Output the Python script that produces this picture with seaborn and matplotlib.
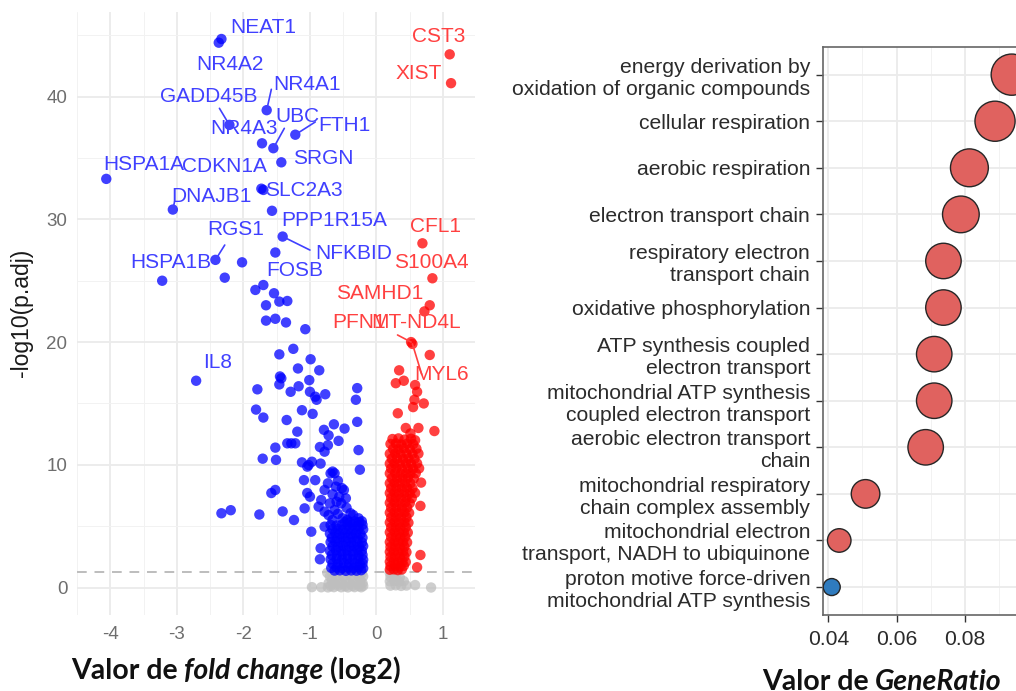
import matplotlib
matplotlib.use("Agg")
import matplotlib.pyplot as plt
import pandas as pd
import seaborn as sns

# ---------------- volcano plot data: (log2 fold change, -log10 adjusted p) ----------------
down_points = [
    (-2.02, 26.5), (-2.28, 25.25), (-1.82, 24.25), (-1.70, 24.65), (-1.54, 23.98), (-1.46, 23.3),
    (-1.34, 23.35), (-1.66, 23.0), (-1.66, 21.75), (-1.52, 21.9), (-1.36, 21.6), (-1.07, 21.05),
    (-1.25, 19.45), (-1.46, 19.0), (-0.99, 18.6), (-1.18, 17.85), (-0.86, 17.7), (-1.45, 17.2),
    (-1.43, 17.05), (-1.46, 16.55), (-1.01, 16.9), (-1.17, 16.4), (-1.29, 15.95), (-1.79, 16.15),
    (-1.00, 15.95), (-0.92, 15.55), (-0.90, 15.3), (-0.77, 15.75), (-0.29, 16.25), (-0.31, 15.3),
    (-1.81, 14.5), (-1.70, 13.85), (-1.35, 13.65), (-1.12, 14.45), (-0.96, 14.15), (-0.29, 13.5),
    (-0.64, 13.3), (-0.48, 12.95), (-0.79, 12.85), (-0.72, 12.4), (-0.57, 11.95), (-1.19, 12.7),
    (-1.52, 11.4), (-1.34, 11.75), (-1.28, 11.75), (-1.22, 11.75), (-0.85, 11.45), (-0.73, 11.6),
    (-0.78, 11.07), (-0.27, 11.2), (-1.71, 10.5), (-1.51, 10.4), (-1.12, 10.2), (-1.02, 9.98),
    (-1.04, 9.85), (-0.97, 10.25), (-0.84, 10.1), (-0.25, 9.6), (-0.66, 9.45), (-0.69, 9.3),
    (-0.63, 9.31), (-1.09, 8.75), (-0.92, 8.75), (-0.73, 8.49), (-0.61, 8.22), (-0.78, 7.95),
    (-0.49, 7.95), (-0.56, 7.4), (-0.46, 7.27), (-0.83, 7.13), (-0.70, 6.86), (-0.53, 6.86),
    (-0.87, 6.59), (-0.78, 6.18), (-0.63, 6.32), (-0.39, 6.05), (-0.27, 5.64), (-0.51, 5.64),
    (-0.66, 5.5), (-0.78, 4.96), (-1.58, 7.7), (-1.52, 7.95), (-1.04, 7.7), (-1.00, 7.4),
    (-2.33, 6.05), (-2.19, 6.3), (-1.76, 5.95), (-1.41, 6.2), (-1.24, 5.5), (-1.08, 6.45),
    (-0.98, 4.55), (-0.84, 3.2), (-0.85, 2.3), (-0.58, 8.7), (-0.52, 8.1), (-0.66, 7.6),
    (-0.60, 7.0), (-0.45, 6.5), (-0.72, 5.9), (-0.58, 6.0), (-0.35, 5.9), (-0.44, 5.5),
    # dense block just above the significance threshold
    (-0.47, 5.35), (-0.40, 5.3), (-0.33, 5.38), (-0.26, 5.33), (-0.22, 5.4),
    (-0.69, 5.1), (-0.60, 5.05), (-0.52, 5.12), (-0.44, 5.08), (-0.36, 5.1), (-0.29, 5.04), (-0.21, 5.11),
    (-0.66, 4.75), (-0.58, 4.78), (-0.50, 4.71), (-0.42, 4.76), (-0.35, 4.73), (-0.27, 4.79), (-0.20, 4.74),
    (-0.70, 4.4), (-0.62, 4.43), (-0.55, 4.37), (-0.47, 4.42), (-0.39, 4.38), (-0.31, 4.41), (-0.24, 4.36),
    (-0.67, 4.05), (-0.59, 4.02), (-0.51, 4.08), (-0.43, 4.03), (-0.36, 4.07), (-0.28, 4.01), (-0.21, 4.06),
    (-0.69, 3.7), (-0.62, 3.73), (-0.54, 3.68), (-0.46, 3.72), (-0.38, 3.69), (-0.30, 3.74), (-0.22, 3.67),
    (-0.66, 3.35), (-0.58, 3.31), (-0.50, 3.37), (-0.41, 3.33), (-0.34, 3.36), (-0.26, 3.32), (-0.20, 3.38),
    (-0.70, 3.0), (-0.61, 3.03), (-0.53, 2.97), (-0.45, 3.02), (-0.37, 2.98), (-0.29, 3.04), (-0.22, 2.99),
    (-0.67, 2.65), (-0.59, 2.62), (-0.51, 2.68), (-0.43, 2.63), (-0.35, 2.67), (-0.27, 2.61), (-0.21, 2.66),
    (-0.69, 2.3), (-0.60, 2.33), (-0.52, 2.28), (-0.44, 2.32), (-0.36, 2.29), (-0.28, 2.34), (-0.20, 2.27),
    (-0.66, 1.95), (-0.58, 1.92), (-0.49, 1.98), (-0.41, 1.93), (-0.33, 1.97), (-0.25, 1.91), (-0.21, 1.96),
    (-0.68, 1.6), (-0.60, 1.63), (-0.52, 1.58), (-0.43, 1.62), (-0.35, 1.59), (-0.27, 1.64), (-0.20, 1.57),
    (-0.63, 1.38), (-0.55, 1.4), (-0.46, 1.36), (-0.38, 1.39), (-0.30, 1.37), (-0.23, 1.41),
]

up_points = [
    (0.80, 18.95), (0.34, 17.7), (0.29, 16.65), (0.41, 16.85), (0.58, 16.5), (0.61, 15.95),
    (0.57, 15.3), (0.71, 15.0), (0.55, 14.7), (0.32, 14.2), (0.87, 12.75), (0.44, 13.0),
    (0.63, 13.0), (0.51, 12.55), (0.67, 8.55), (0.66, 6.65), (0.66, 2.65), (0.61, 1.65),
    (0.24, 12.1), (0.33, 12.15), (0.42, 12.05), (0.52, 12.12), (0.58, 12.0),
    (0.21, 11.7), (0.29, 11.74), (0.37, 11.66), (0.46, 11.72), (0.55, 11.68),
    (0.25, 11.3), (0.33, 11.27), (0.41, 11.33), (0.50, 11.29), (0.60, 11.31),
    (0.20, 10.9), (0.28, 10.93), (0.36, 10.87), (0.45, 10.92), (0.54, 10.88), (0.63, 10.91),
    (0.23, 10.5), (0.31, 10.53), (0.40, 10.47), (0.48, 10.52), (0.57, 10.48),
    (0.20, 10.1), (0.27, 10.13), (0.35, 10.07), (0.44, 10.12), (0.52, 10.08), (0.61, 10.11),
    (0.22, 9.7), (0.30, 9.73), (0.38, 9.67), (0.47, 9.72), (0.55, 9.68), (0.64, 9.71),
    (0.20, 9.3), (0.28, 9.33), (0.36, 9.27), (0.44, 9.32), (0.51, 9.28), (0.59, 9.31),
    (0.23, 8.9), (0.31, 8.93), (0.39, 8.87), (0.47, 8.92), (0.56, 8.88),
    (0.20, 8.5), (0.27, 8.53), (0.35, 8.47), (0.43, 8.52), (0.51, 8.48),
    (0.22, 8.1), (0.30, 8.13), (0.38, 8.07), (0.46, 8.12), (0.54, 8.08),
    (0.20, 7.7), (0.27, 7.73), (0.34, 7.67), (0.42, 7.72), (0.50, 7.68), (0.58, 7.71),
    (0.22, 7.3), (0.29, 7.33), (0.37, 7.27), (0.45, 7.32), (0.53, 7.28),
    (0.20, 6.9), (0.27, 6.93), (0.35, 6.87), (0.43, 6.92), (0.50, 6.88),
    (0.22, 6.5), (0.30, 6.53), (0.38, 6.47), (0.46, 6.52),
    (0.20, 6.1), (0.27, 6.13), (0.34, 6.07), (0.42, 6.12), (0.49, 6.08),
    (0.22, 5.7), (0.29, 5.73), (0.37, 5.67), (0.45, 5.72),
    (0.20, 5.3), (0.27, 5.33), (0.34, 5.27), (0.42, 5.32), (0.48, 5.28),
    (0.22, 4.9), (0.29, 4.93), (0.36, 4.87), (0.44, 4.92),
    (0.20, 4.5), (0.27, 4.53), (0.34, 4.47), (0.41, 4.52), (0.47, 4.48),
    (0.22, 4.1), (0.29, 4.13), (0.36, 4.07), (0.43, 4.12),
    (0.20, 3.7), (0.27, 3.73), (0.33, 3.67), (0.40, 3.72), (0.46, 3.68),
    (0.21, 3.3), (0.28, 3.33), (0.35, 3.27), (0.42, 3.32),
    (0.20, 2.9), (0.26, 2.93), (0.33, 2.87), (0.40, 2.92), (0.45, 2.88),
    (0.21, 2.5), (0.28, 2.53), (0.35, 2.47), (0.42, 2.52),
    (0.20, 2.1), (0.26, 2.13), (0.33, 2.07), (0.39, 2.12), (0.44, 2.08),
    (0.21, 1.75), (0.28, 1.78), (0.35, 1.72), (0.41, 1.77),
    (0.20, 1.45), (0.26, 1.48), (0.32, 1.42), (0.38, 1.47),
]

ns_points = [
    (-0.74, 1.2), (-0.66, 1.18), (-0.55, 1.22), (-0.42, 1.19), (-0.30, 1.21), (-0.22, 1.17),
    (-0.70, 0.9), (-0.61, 0.93), (-0.50, 0.88), (-0.38, 0.92), (-0.27, 0.89), (-0.20, 0.91),
    (-0.67, 0.6), (-0.57, 0.63), (-0.46, 0.58), (-0.35, 0.62), (-0.24, 0.59),
    (-0.72, 0.35), (-0.63, 0.38), (-0.52, 0.33), (-0.41, 0.37), (-0.30, 0.34), (-0.21, 0.36),
    (-0.69, 0.12), (-0.58, 0.15), (-0.47, 0.1), (-0.36, 0.14), (-0.26, 0.11), (-0.20, 0.13),
    (-0.97, 0.03), (-0.83, 0.02), (-0.73, 0.01), (-0.64, 0.03), (-0.53, 0.02), (-0.43, 0.01),
    (-0.33, 0.03), (-0.23, 0.02),
    (0.20, 1.2), (0.26, 1.18), (0.31, 1.22), (0.21, 0.85), (0.28, 0.88), (0.35, 0.83),
    (0.20, 0.5), (0.27, 0.53), (0.34, 0.48), (0.41, 0.52), (0.21, 0.15), (0.29, 0.18),
    (0.37, 0.13), (0.45, 0.16), (0.58, 0.2), (0.82, 0.0),
]

# labelled genes
label_genes = ["NEAT1", "NR4A2", "NR4A1", "GADD45B", "NR4A3", "UBC", "FTH1", "SRGN",
               "HSPA1A", "CDKN1A", "SLC2A3", "DNAJB1", "PPP1R15A", "RGS1", "NFKBID",
               "HSPA1B", "FOSB", "IL8",
               "CST3", "XIST", "CFL1", "S100A4", "SAMHD1", "PFN1", "MT-ND4L", "MYL6"]
label_fc = [-2.33, -2.37, -1.65, -2.21, -1.72, -1.55, -1.22, -1.43,
            -4.06, -1.73, -1.70, -3.06, -1.57, -2.42, -1.41,
            -3.22, -1.52, -2.71,
            1.10, 1.12, 0.69, 0.84, 0.80, 0.72, 0.52, 0.54]
label_logp = [44.7, 44.4, 38.9, 37.7, 36.2, 35.8, 36.9, 34.65,
              33.3, 32.5, 32.4, 30.8, 30.7, 26.7, 28.6,
              25.0, 27.3, 16.85,
              43.45, 41.1, 28.05, 25.2, 23.0, 22.5, 20.0, 19.85]

# repelled label anchors (text centre) and optional leader-line start, in data units
label_layout = {
    "NEAT1": (-1.70, 45.66, None), "NR4A2": (-2.195, 42.64, None),
    "NR4A1": (-1.044, 41.03, (-1.58, 40.6)), "GADD45B": (-2.526, 40.0, (-2.36, 39.05)),
    "NR4A3": (-1.99, 37.42, None), "UBC": (-1.19, 38.37, (-1.385, 37.42)),
    "FTH1": (-0.485, 37.61, (-0.92, 37.94)), "SRGN": (-0.80, 34.98, None),
    "HSPA1A": (-3.50, 34.49, None), "CDKN1A": (-2.28, 34.35, None),
    "SLC2A3": (-1.093, 32.34, None), "DNAJB1": (-2.487, 31.85, (-3.035, 31.42)),
    "PPP1R15A": (-0.63, 29.89, None), "RGS1": (-2.11, 29.14, (-2.28, 27.91)),
    "NFKBID": (-0.34, 27.22, (-1.0, 27.5)), "HSPA1B": (-3.085, 26.47, None),
    "FOSB": (-1.224, 25.82, None), "IL8": (-2.39, 18.32, None),
    "CST3": (0.939, 44.89, None), "XIST": (0.633, 41.85, None),
    "CFL1": (0.885, 29.45, None), "S100A4": (0.827, 26.5, None),
    "SAMHD1": (0.05, 23.92, None), "PFN1": (-0.267, 21.56, None),
    "MT-ND4L": (0.593, 21.56, (0.316, 20.58)), "MYL6": (0.972, 17.32, (0.68, 17.37)),
}

# ---------------- GO enrichment data ----------------
go_terms = [
    "energy derivation by\noxidation of organic compounds",
    "cellular respiration",
    "aerobic respiration",
    "electron transport chain",
    "respiratory electron\ntransport chain",
    "oxidative phosphorylation",
    "ATP synthesis coupled\nelectron transport",
    "mitochondrial ATP synthesis\ncoupled electron transport",
    "aerobic electron transport\nchain",
    "mitochondrial respiratory\nchain complex assembly",
    "mitochondrial electron\ntransport, NADH to ubiquinone",
    "proton motive force-driven\nmitochondrial ATP synthesis",
]
go_ratio = [0.0937, 0.0888, 0.0813, 0.0788, 0.0737, 0.0737, 0.0710, 0.0710, 0.0685, 0.0509, 0.0432, 0.0410]
go_count = [27, 26, 24, 23, 22, 22, 22, 22, 22, 17, 14, 11]
go_fill = ["#E0625F"] * 11 + ["#2F7BBE"]

# ---------------- styling ----------------
sns.set_theme(style="white")
plt.rcParams["font.family"] = ["Liberation Sans", "DejaVu Sans"]

BLUE = "#0000FF"
RED = "#FF0000"
GREY = "#BEBEBE"

fig = plt.figure(figsize=(10.16, 6.91), dpi=100)
W, H = 1016, 691


def ax_rect(x0, y0, x1, y1):
    return [x0 / W, 1 - y1 / H, (x1 - x0) / W, (y1 - y0) / H]


# ================= volcano =================
ax1 = fig.add_axes(ax_rect(77, 12, 475, 615))

rows = []
for fc, lp in ns_points:
    rows.append((fc, lp, "ns"))
for fc, lp in down_points:
    rows.append((fc, lp, "down"))
for fc, lp in up_points:
    rows.append((fc, lp, "up"))
for g, fc, lp in zip(label_genes, label_fc, label_logp):
    rows.append((fc, lp, "down" if fc < 0 else "up"))
volcano = pd.DataFrame(rows, columns=["log2FC", "neglog10padj", "group"])

sns.scatterplot(data=volcano, x="log2FC", y="neglog10padj", hue="group",
                palette={"ns": GREY, "down": BLUE, "up": RED},
                s=56, alpha=0.75, edgecolor="none", legend=False, ax=ax1, zorder=3)

ax1.axhline(1.30, color="#BDBDBD", lw=1.4, ls=(0, (5, 4)), zorder=2)

for g, fc, lp in zip(label_genes, label_fc, label_logp):
    tx, ty, seg = label_layout[g]
    col = "#4040FF" if fc < 0 else "#FF4040"
    if seg is not None:
        ax1.plot([seg[0], fc], [seg[1], lp], color=col, lw=1.2, zorder=4)
    ax1.text(tx, ty, g, color=col, fontsize=15, ha="center", va="center", zorder=5)

x_ticks = [-4, -3, -2, -1, 0, 1]
y_ticks = [0, 10, 20, 30, 40]
ax1.set_xlim(-4.32, 1.48)
ax1.set_ylim(-2.24, 46.9)
ax1.set_xticks(x_ticks)
ax1.set_xticklabels([str(t) for t in x_ticks])
ax1.set_yticks(y_ticks)
ax1.set_yticklabels([str(t) for t in y_ticks])
ax1.set_xticks([-4.5, -3.5, -2.5, -1.5, -0.5, 0.5], minor=True)
ax1.set_yticks([5, 15, 25, 35, 45], minor=True)
ax1.grid(True, which="major", color="#EBEBEB", lw=1.3, zorder=0)
ax1.grid(True, which="minor", color="#F2F2F2", lw=0.7, zorder=0)
ax1.set_axisbelow(True)
for sp in ax1.spines.values():
    sp.set_visible(False)
ax1.tick_params(axis="both", which="both", length=0, labelsize=13.5, labelcolor="#6E6E6E")
ax1.tick_params(axis="x", pad=8)
ax1.tick_params(axis="y", pad=7)
ax1.set_xlabel("")
ax1.set_ylabel("")
fig.text(21 / W, 1 - 313 / H, "-log10(p.adj)", rotation=90, ha="center", va="center",
         fontsize=16.5, color="#1A1A1A")

# ================= GO dot plot =================
ax2 = fig.add_axes(ax_rect(822.7, 46.7, 1018.6, 615))
go = pd.DataFrame({"Description": go_terms, "GeneRatio": go_ratio, "Count": go_count})
sns.scatterplot(data=go, x="GeneRatio", y="Description", size="Count", sizes=(150, 880),
                hue="Description", palette=dict(zip(go_terms, go_fill)),
                edgecolor="#262626", linewidth=1.0, legend=False, ax=ax2, zorder=3)
ax2.set_ylim(len(go_terms) - 0.4, -0.6)
ax2.set_xlim(0.03836, 0.0957)
ax2.set_xticks([0.04, 0.06, 0.08])
ax2.set_xticklabels(["0.04", "0.06", "0.08"])
ax2.set_xticks([0.05, 0.07, 0.09], minor=True)
ax2.grid(True, which="major", color="#EBEBEB", lw=1.3, zorder=0)
ax2.grid(True, which="minor", axis="x", color="#F2F2F2", lw=0.7, zorder=0)
ax2.set_axisbelow(True)
for sp in ax2.spines.values():
    sp.set_visible(True)
    sp.set_color("#666666")
    sp.set_linewidth(1.2)
ax2.tick_params(axis="both", which="major", length=5, width=1.0, color="#333333",
                labelsize=15.2, labelcolor="#2B2B2B", left=True, bottom=True)
ax2.tick_params(axis="y", pad=4)
ax2.tick_params(axis="x", pad=6)
ax2.tick_params(axis="x", which="minor", length=0)
for lab in ax2.get_yticklabels():
    lab.set_linespacing(1.2)
ax2.set_xlabel("")
ax2.set_ylabel("")

# ================= rich-text captions under each panel =================
CAP_FONT = ["Lato", "DejaVu Sans"]


def caption(cx, baseline, parts, size):
    renderer = fig.canvas.get_renderer()
    texts = []
    for s, style in parts:
        t = fig.text(0, 1 - baseline / H, s, fontsize=size, family=CAP_FONT,
                     weight="bold", style=style, color="#111111", va="baseline", ha="left")
        texts.append(t)
    widths = [t.get_window_extent(renderer).width for t in texts]
    gap = 0.23 * size * 100 / 72
    total = sum(widths) + gap * (len(texts) - 1)
    x = cx - total / 2
    for t, w in zip(texts, widths):
        t.set_x(x / W)
        x += w + gap


caption(236, 679, [("Valor de", "normal"), ("fold change", "italic"), ("(log2)", "normal")], 20.5)
caption(882, 690, [("Valor de", "normal"), ("GeneRatio", "italic")], 20.5)

fig.savefig("out.png", dpi=100)
